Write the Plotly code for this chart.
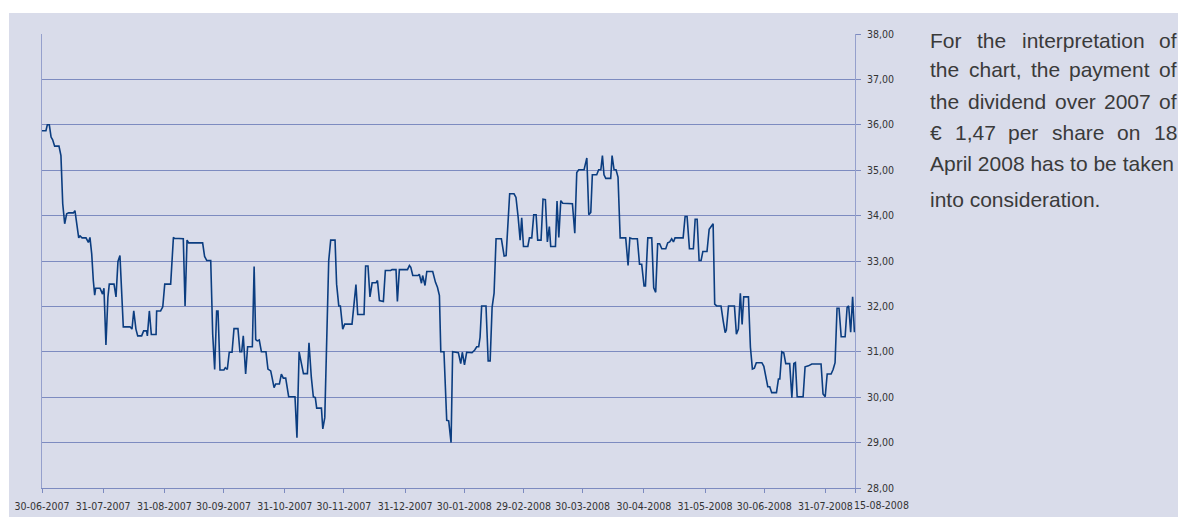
import pandas as pd
import plotly.graph_objects as go

# ---------------- data ----------------
start_date = "2007-06-30"
end_date = "2008-08-15"

# days elapsed since start_date for each vertex of the share-price line
day_offset = [
    0, 2.0, 2.7, 3.7, 4.6, 5.4, 6.4, 8.6, 9.6, 10.5, 11.5, 12.5, 13.5, 15.9, 16.7, 17.6, 18.6, 19.3, 20.3, 22.3,
    23.5, 24.3, 25.2, 26.0, 26.7, 27.2, 29.4, 30.7, 31.4, 32.4, 33.4, 34.1, 36.5, 37.5, 38.5, 39.5, 41.2, 42.2, 44.6, 45.6,
    46.5, 47.6, 48.5, 50.5, 51.5, 53.0, 53.4, 54.4, 55.4, 57.8, 58.1, 60.1, 61.2, 62.2, 65.2, 66.6, 67.1, 71.6, 72.5, 73.5,
    74.3, 81.4, 82.4, 83.5, 85.5, 86.5, 87.5, 88.5, 89.2, 90.2, 92.2, 92.9, 93.9, 94.9, 96.3, 97.3, 99.3, 100.3, 101.2, 102.0,
    103.2, 104.2, 106.6, 107.5, 108.3, 109.1, 110.1, 111.2, 113.5, 114.5, 115.9, 116.6, 117.6, 118.4, 120.3, 121.3, 122.3, 123.5, 125.0, 128.2,
    129.2, 130.3, 132.5, 134.5, 135.3, 136.5, 137.5, 138.5, 139.2, 141.6, 142.3, 143.3, 144.3, 145.3, 146.3, 148.5, 149.3, 150.4, 151.2, 152.4,
    153.4, 157.1, 159.1, 160.0, 163.2, 164.0, 165.2, 166.2, 167.3, 169.3, 170.0, 171.0, 173.0, 174.0, 176.7, 177.4, 179.4, 180.1, 181.1, 185.2,
    186.2, 186.9, 187.9, 190.6, 191.2, 192.3, 192.9, 194.1, 195.0, 198.0, 199.4, 200.4, 201.4, 202.1, 203.7, 205.1, 206.1, 207.3, 208.1, 211.0,
    212.2, 213.0, 214.1, 215.2, 217.9, 219.3, 220.3, 221.3, 222.0, 222.8, 225.0, 226.1, 227.1, 228.1, 229.1, 230.1, 232.8, 234.2, 235.2, 236.4,
    237.0, 239.2, 240.2, 241.3, 242.3, 243.1, 244.0, 246.2, 247.0, 248.2, 249.2, 250.4, 251.2, 252.9, 253.9, 255.1, 256.1, 257.1, 257.8, 260.2,
    261.0, 261.9, 262.9, 263.9, 268.8, 270.0, 271.0, 272.0, 274.7, 276.1, 277.1, 278.1, 278.9, 281.1, 282.1, 283.2, 284.0, 284.8, 285.7, 288.2,
    288.9, 289.9, 290.9, 291.9, 293.0, 295.8, 297.0, 297.9, 299.0, 301.7, 302.8, 303.9, 305.1, 305.8, 307.0, 309.0, 310.0, 311.0, 312.0, 313.0,
    314.1, 316.1, 317.1, 318.1, 319.1, 320.0, 320.8, 324.9, 325.9, 326.9, 328.1, 330.1, 331.0, 332.0, 333.0, 334.0, 334.9, 337.0, 338.1, 340.1,
    340.9, 341.9, 344.1, 345.2, 346.2, 346.8, 347.9, 350.9, 351.9, 352.9, 353.9, 354.8, 355.6, 358.0, 359.0, 360.0, 361.0, 362.0, 364.8, 365.8,
    366.8, 367.8, 368.8, 369.8, 372.2, 373.2, 373.9, 374.9, 375.9, 376.9, 378.9, 380.0, 381.0, 381.8, 382.7, 385.7, 386.7, 388.4, 390.1, 394.8,
    395.8, 396.9, 397.9, 399.9, 400.9, 401.9, 402.9, 403.9, 405.0, 407.0, 408.0, 408.8, 409.8, 410.8, 411.7,
]

price = [
    35.87, 35.87, 36.0, 36.0, 35.73, 35.67, 35.53, 35.53, 35.32, 34.26, 33.82, 34.04, 34.06, 34.06, 34.11, 33.82, 33.51, 33.55, 33.51, 33.51,
    33.41, 33.52, 33.15, 32.57, 32.25, 32.40, 32.40, 32.27, 32.40, 31.15, 32.20, 32.49, 32.49, 32.21, 32.99, 33.12, 31.55, 31.55, 31.55, 31.50,
    31.90, 31.50, 31.35, 31.35, 31.46, 31.46, 31.35, 31.90, 31.38, 31.38, 31.90, 31.90, 31.99, 32.49, 32.49, 33.52, 33.50, 33.49, 32.01, 33.46,
    33.40, 33.40, 33.10, 33.01, 33.01, 31.39, 30.61, 31.90, 31.90, 30.60, 30.60, 30.65, 30.61, 30.99, 30.99, 31.51, 31.51, 31.0, 31.0, 31.35,
    30.51, 31.11, 31.11, 32.88, 31.27, 31.24, 31.26, 31.0, 31.0, 30.62, 30.58, 30.43, 30.21, 30.29, 30.29, 30.51, 30.42, 30.42, 30.01, 30.01,
    29.11, 31.0, 30.52, 30.52, 31.20, 30.43, 30.01, 29.99, 29.76, 29.76, 29.30, 29.55, 31.48, 33.01, 33.46, 33.46, 32.49, 32.01, 32.01, 31.50,
    31.61, 31.61, 32.48, 31.82, 31.82, 32.89, 32.89, 32.21, 32.52, 32.52, 32.57, 32.13, 32.11, 32.79, 32.79, 32.81, 32.81, 32.11, 32.81, 32.81,
    32.90, 32.86, 32.68, 32.68, 32.71, 32.51, 32.68, 32.46, 32.77, 32.77, 32.53, 32.42, 32.24, 31.0, 31.0, 29.49, 29.48, 29.0, 31.0, 30.98,
    30.74, 30.99, 30.71, 30.99, 30.98, 31.04, 31.11, 31.11, 31.32, 32.01, 32.01, 30.80, 30.80, 31.98, 32.29, 33.49, 33.49, 33.11, 33.12, 34.04,
    34.48, 34.48, 34.40, 33.96, 33.46, 33.95, 33.32, 33.32, 33.51, 33.51, 34.02, 34.02, 33.46, 33.46, 34.36, 34.35, 33.42, 33.76, 33.32, 33.32,
    34.32, 33.52, 34.33, 34.27, 34.26, 33.61, 34.95, 35.01, 35.01, 35.27, 34.02, 34.07, 34.90, 34.90, 35.01, 35.01, 35.32, 34.90, 34.82, 34.82,
    35.32, 35.01, 35.01, 34.85, 33.51, 33.51, 32.90, 33.51, 33.49, 33.49, 32.93, 32.93, 32.45, 32.45, 33.51, 33.51, 32.41, 32.31, 33.38, 33.38,
    33.27, 33.27, 33.40, 33.42, 33.49, 33.42, 33.51, 33.51, 33.98, 33.98, 33.27, 33.27, 33.92, 33.92, 33.01, 33.01, 33.21, 33.21, 33.70, 33.82,
    32.05, 32.01, 32.01, 31.68, 31.42, 31.48, 32.01, 32.01, 31.39, 31.50, 32.29, 31.60, 32.21, 32.21, 31.10, 30.62, 30.64, 30.76, 30.76, 30.68,
    30.49, 30.23, 30.23, 30.10, 30.10, 30.40, 30.40, 31.0, 30.98, 30.74, 30.74, 29.99, 30.74, 30.76, 30.01, 30.01, 30.67, 30.69, 30.73, 30.73,
    30.07, 30.01, 30.51, 30.51, 30.61, 30.76, 31.96, 31.96, 31.33, 31.33, 31.98, 32.01, 31.43, 32.21, 31.43,
]

tick_dates = ["2007-06-30", "2007-07-31", "2007-08-31", "2007-09-30", "2007-10-31", "2007-11-30",
              "2007-12-31", "2008-01-30", "2008-02-29", "2008-03-30", "2008-04-30", "2008-05-31",
              "2008-06-30", "2008-07-31", "2008-08-15"]
tick_labels = ["30-06-2007", "31-07-2007", "31-08-2007", "30-09-2007", "31-10-2007", "30-11-2007",
               "31-12-2007", "30-01-2008", "29-02-2008", "30-03-2008", "30-04-2008", "31-05-2008",
               "30-06-2008", "31-07-2008", "15-08-2008"]
y_ticks = [28, 29, 30, 31, 32, 33, 34, 35, 36, 37, 38]

note_lines = [
    "For the interpretation of",
    "the chart, the payment of",
    "the dividend over 2007 of",
    "€ 1,47 per share on 18",
    "April 2008 has to be taken",
    "into consideration.",
]
note_justified = [True, True, True, True, False, False]

# ---------------- layout geometry (page pixels) ----------------
W, H = 1178, 517
L, R, T, B = 42, 855, 34, 488

def px(x):
    return (x - L) / (R - L)

def py(y):
    return (B - y) / (B - T)

BG = "#d9dcea"
GRID = "#7d8bc0"
AXIS = "#95a0cc"
LINE = "#0b3d80"
TXT = "#333333"
TICK_FONT = "DejaVu Sans Condensed, Liberation Sans Narrow, Arial Narrow, sans-serif"
NOTE_FONT = "Liberation Sans, Arial, sans-serif"
NOTE_SIZE = 21
NOTE_LEFT, NOTE_RIGHT = 928, 1175
NOTE_Y = [40, 70, 101, 132, 163, 200]

# Arial / Liberation Sans advance widths (per 1000 em) used to justify the note
ADV = {" ": 278, ",": 278, ".": 278, "€": 556, "A": 667, "F": 611}
for ch in "0123456789abdeghnopqu":
    ADV[ch] = 556
for ch in "cksvxyz":
    ADV[ch] = 500
ADV.update({"f": 278, "t": 278, "i": 222, "j": 222, "l": 222, "r": 333, "m": 833, "w": 722})

def text_w(s):
    return sum(ADV.get(c, 556) for c in s) / 1000 * NOTE_SIZE

dates = pd.Timestamp(start_date) + pd.to_timedelta(day_offset, unit="D")

fig = go.Figure()
fig.add_trace(go.Scatter(x=dates, y=price, mode="lines",
                         line=dict(color=LINE, width=1.6), hoverinfo="skip",
                         showlegend=False))

shapes = [dict(type="rect", xref="paper", yref="paper", layer="below",
               x0=px(9), x1=px(W + 20), y0=py(H + 20), y1=py(13),
               fillcolor=BG, line=dict(width=0))]

annotations = []
note_font = dict(family=NOTE_FONT, size=NOTE_SIZE, color="#3a3a3a")
for line, just, yl in zip(note_lines, note_justified, NOTE_Y):
    if just:
        words = line.split(" ")
        widths = [text_w(w) for w in words]
        gap = (NOTE_RIGHT - NOTE_LEFT - sum(widths)) / (len(words) - 1)
        x = NOTE_LEFT
        for w, ww in zip(words, widths):
            annotations.append(dict(text=w, xref="paper", yref="paper", x=px(x), y=py(yl),
                                    xanchor="left", yanchor="middle", showarrow=False,
                                    font=note_font))
            x += ww + gap
    else:
        annotations.append(dict(text=line, xref="paper", yref="paper", x=px(NOTE_LEFT), y=py(yl),
                                xanchor="left", yanchor="middle", showarrow=False,
                                font=note_font))

# last date label is pushed to the right of its tick (as in the original)
annotations.append(dict(text=tick_labels[-1], xref="paper", yref="paper", x=px(881), y=py(505.5),
                        xanchor="center", yanchor="middle", showarrow=False,
                        font=dict(family=TICK_FONT, size=10.5, color=TXT)))
shown_labels = tick_labels[:-1] + [""]

fig.update_layout(
    width=W, height=H,
    margin=dict(l=L, r=W - R, t=T, b=H - B, pad=0),
    paper_bgcolor="white", plot_bgcolor="rgba(0,0,0,0)",
    separators=",.",
    shapes=shapes, annotations=annotations,
    showlegend=False,
    xaxis=dict(type="date", range=[start_date, end_date], automargin=False,
               tickmode="array", tickvals=tick_dates, ticktext=shown_labels,
               tickangle=0,
               ticks="outside", ticklen=4, tickcolor=GRID, tickwidth=1,
               ticklabelstandoff=4,
               showgrid=False, zeroline=False,
               showline=True, linecolor=GRID, linewidth=1,
               tickfont=dict(family=TICK_FONT, size=10.5, color=TXT)),
    yaxis=dict(side="right", range=[28, 38], tickmode="array", tickvals=y_ticks,
               tickformat=".2f", automargin=False,
               ticks="outside", ticklen=5, tickcolor=GRID, tickwidth=1,
               ticklabelstandoff=4,
               showgrid=True, gridcolor=GRID, gridwidth=1, zeroline=False,
               showline=True, mirror=True, linecolor=AXIS, linewidth=1,
               tickfont=dict(family=TICK_FONT, size=10.5, color=TXT)),
)

fig.write_html("out.html", config={"displayModeBar": False},
               post_script="document.body.style.margin='0';document.body.style.overflow='hidden';")
